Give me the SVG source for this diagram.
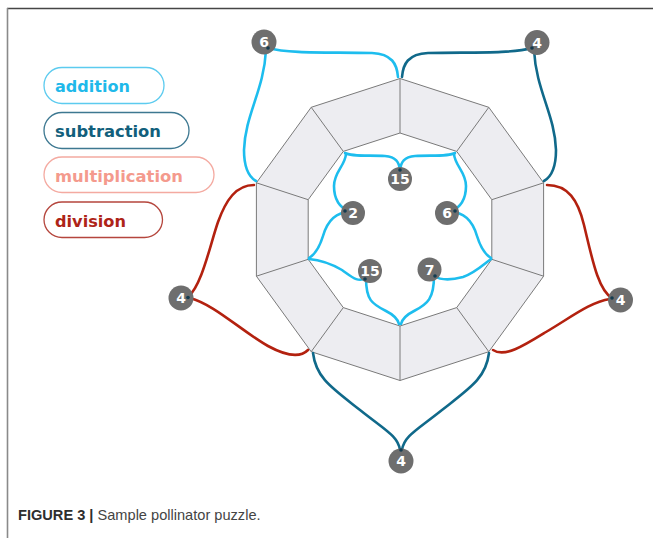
<svg xmlns="http://www.w3.org/2000/svg" width="654" height="538" viewBox="0 0 654 538">
<style>
.frame-top{stroke:#454545;stroke-width:1.6;fill:none}
.frame-left{stroke:#8a8a8a;stroke-width:1.6;fill:none}
.ring{fill:#ededf1;stroke:#7a7a7a;stroke-width:1}
.hole{fill:#ffffff;stroke:#7a7a7a;stroke-width:1}
.spoke{stroke:#7a7a7a;stroke-width:1}
.c{fill:none;stroke-width:2.6;stroke-linecap:round}
.add{stroke:#1dbdee}
.sub{stroke:#10698a}
.div{stroke:#b3210f}
.node circle.n{fill:#6e6e6e}
.node circle.d{fill:#143c50}
.node text{font-family:"DejaVu Sans",sans-serif;font-weight:bold;font-size:14px;fill:#ffffff;text-anchor:middle}
.pill{fill:#ffffff;stroke-width:1.3}
.lt{font-family:"DejaVu Sans",sans-serif;font-weight:bold;font-size:16px}
.cap{font-family:"Liberation Sans",Arial,sans-serif;font-size:14.6px}
</style>
<rect width="654" height="538" fill="#ffffff"/>
<line class="frame-top" x1="7" y1="8.5" x2="653" y2="8.5"/>
<line class="frame-left" x1="7.5" y1="8" x2="7.5" y2="538"/>

<g id="ring">
<polygon class="ring" points="400,78.5 488.8,107.3 543.6,182.8 543.6,276.2 488.8,351.7 400,380.5 311.2,351.7 256.4,276.2 256.4,182.8 311.2,107.3"/>
<polygon class="hole" points="400,133 456.7,151.4 491.8,199.7 491.8,259.3 456.7,307.6 400,326 343.3,307.6 308.2,259.3 308.2,199.7 343.3,151.4"/>
<line class="spoke" x1="400" y1="78.5" x2="400" y2="133"/>
<line class="spoke" x1="488.8" y1="107.3" x2="456.7" y2="151.4"/>
<line class="spoke" x1="543.6" y1="182.8" x2="491.8" y2="199.7"/>
<line class="spoke" x1="543.6" y1="276.2" x2="491.8" y2="259.3"/>
<line class="spoke" x1="488.8" y1="351.7" x2="456.7" y2="307.6"/>
<line class="spoke" x1="400" y1="380.5" x2="400" y2="326"/>
<line class="spoke" x1="311.2" y1="351.7" x2="343.3" y2="307.6"/>
<line class="spoke" x1="256.4" y1="276.2" x2="308.2" y2="259.3"/>
<line class="spoke" x1="256.4" y1="182.8" x2="308.2" y2="199.7"/>
<line class="spoke" x1="311.2" y1="107.3" x2="343.3" y2="151.4"/>
</g>

<g id="legend">
<g id="leg-add"><rect class="pill" x="44" y="67.5" width="120" height="36" rx="18" stroke="#5ccbef"/><text class="lt" x="55" y="92" fill="#1fb9ea" textLength="75" lengthAdjust="spacingAndGlyphs">addition</text></g>
<g id="leg-sub"><rect class="pill" x="44" y="112.5" width="145" height="36" rx="18" stroke="#3d7891"/><text class="lt" x="55" y="137" fill="#125f7c" textLength="106" lengthAdjust="spacingAndGlyphs">subtraction</text></g>
<g id="leg-mul"><rect class="pill" x="44" y="157" width="170" height="35.5" rx="18" stroke="#f4aaa1"/><text class="lt" x="55" y="182" fill="#f49a8d" textLength="128" lengthAdjust="spacingAndGlyphs">multiplication</text></g>
<g id="leg-div"><rect class="pill" x="44" y="202" width="118.5" height="35.5" rx="18" stroke="#b5463d"/><text class="lt" x="55" y="226.5" fill="#ae2418" textLength="71" lengthAdjust="spacingAndGlyphs">division</text></g>
</g>

<g id="connectors">
<path class="c add" d="M268,48 C290,54 330,52 372,53 C392,54 397,64 398,77"/>
<path class="c add" d="M266,50 C264,90 245,115 244,150 C244,168 249,177 256,181"/>
<path class="c sub" d="M532,48 C510,54 470,52 428,53 C408,54 403,64 402,77"/>
<path class="c sub" d="M534,50 C536,90 555,115 556,150 C556,168 551,177 544,181"/>
<path class="c div" d="M254,185 C236,185 226,200 218,222 C210,245 202,285 188,297"/>
<path class="c div" d="M190,298 C215,305 240,330 268,346 C290,358 302,356 308,350"/>
<path class="c div" d="M547,185 C568,185 578,200 584,225 C592,258 598,290 612,298"/>
<path class="c div" d="M610,299 C590,302 570,318 546,332 C525,345 505,358 493,350"/>
<path class="c sub" d="M313,353 C316,378 332,388 360,410 C385,430 398,436 400,450"/>
<path class="c sub" d="M489,353 C486,378 470,388 442,410 C417,430 404,436 402,450"/>
<path class="c add" d="M345,153 C352,157 370,155 385,156 C396,157 399,162 400,170"/>
<path class="c add" d="M455,153 C448,157 430,155 415,156 C404,157 401,162 400,170"/>
<path class="c add" d="M346,154 C345,166 334,172 334,186 C334,200 340,208 350,212"/>
<path class="c add" d="M350,212 C335,212 327,222 323,236 C319,249 314,255 309,258"/>
<path class="c add" d="M454,154 C455,166 466,172 466,186 C466,200 460,208 450,212"/>
<path class="c add" d="M450,212 C465,212 473,222 477,236 C481,249 486,255 491,258"/>
<path class="c add" d="M309,259 C320,260 330,263 342,270 C352,277 358,283 366,278"/>
<path class="c add" d="M366,278 C366,300 372,304 386,311 C396,316 398,320 399,324"/>
<path class="c add" d="M434,276 C434,298 428,304 414,311 C404,316 402,320 401,324"/>
<path class="c add" d="M434,276 C442,281 452,280 463,277 C475,273 484,264 491,259"/>
</g>

<g id="node-tl6" class="node"><circle class="n" cx="264" cy="42" r="12.5"/><text x="264" y="47">6</text><circle class="d" cx="268" cy="48" r="1.8"/></g>
<g id="node-tr4" class="node"><circle class="n" cx="537" cy="42.5" r="12.5"/><text x="537" y="47.5">4</text><circle class="d" cx="532" cy="48" r="1.8"/></g>
<g id="node-l4" class="node"><circle class="n" cx="181" cy="298" r="12.5"/><text x="181" y="303">4</text><circle class="d" cx="188" cy="297.5" r="1.8"/></g>
<g id="node-r4" class="node"><circle class="n" cx="620.5" cy="300" r="12.5"/><text x="620.5" y="305">4</text><circle class="d" cx="612" cy="298" r="1.8"/></g>
<g id="node-b4" class="node"><circle class="n" cx="401" cy="461" r="12.5"/><text x="401" y="466">4</text><circle class="d" cx="401" cy="450" r="1.8"/></g>
<g id="node-i15t" class="node"><circle class="n" cx="400" cy="179" r="12"/><text x="400" y="184">15</text><circle class="d" cx="400" cy="170" r="1.8"/></g>
<g id="node-i2" class="node"><circle class="n" cx="353" cy="213" r="12"/><text x="353" y="218">2</text><circle class="d" cx="345" cy="211" r="1.8"/></g>
<g id="node-i6" class="node"><circle class="n" cx="447" cy="213" r="12"/><text x="447" y="218">6</text><circle class="d" cx="455" cy="211" r="1.8"/></g>
<g id="node-i15b" class="node"><circle class="n" cx="370" cy="271" r="12"/><text x="370" y="276">15</text><circle class="d" cx="365" cy="279" r="1.8"/></g>
<g id="node-i7" class="node"><circle class="n" cx="429.5" cy="269.5" r="12"/><text x="429.5" y="274.5">7</text><circle class="d" cx="435" cy="276" r="1.8"/></g>

<g id="caption">
<text class="cap" x="18" y="520"><tspan font-weight="bold" fill="#2e2e2e">FIGURE 3 |</tspan><tspan fill="#444444"> Sample pollinator puzzle.</tspan></text>
</g>
</svg>
